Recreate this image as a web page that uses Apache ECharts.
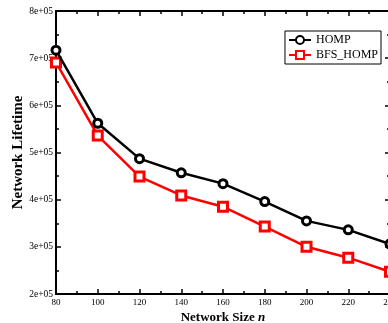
<!DOCTYPE html>
<html>
<head>
<meta charset="utf-8">
<script src="https://cdn.jsdelivr.net/npm/echarts@6/dist/echarts.min.js"></script>
<style>
  html, body { margin: 0; padding: 0; background: #fff; }
  #chart { width: 388px; height: 323px; }
</style>
</head>
<body>
<div id="chart"></div>
<script>
const networkSizes = [80, 100, 120, 140, 160, 180, 200, 220, 240];
const hompLifetime = [717000, 562000, 487000, 457000, 434000, 396000, 355000, 336000, 306000];
const bfsHompLifetime = [691000, 536000, 449000, 409000, 385000, 343000, 300000, 277000, 247000];

const font = "Liberation Serif";

const tickFormatter = (value) => `${Math.round(value / 1e5)}e+05`;

const axisLine = { lineStyle: { color: "#000", width: 2 } };
const majorTick = { inside: true, length: 5, lineStyle: { color: "#000", width: 1.5 } };
const minorTick = { show: true, splitNumber: 2, length: 3, lineStyle: { color: "#000", width: 1.5 } };

const chart = echarts.init(document.getElementById("chart"), null, { renderer: "canvas" });

chart.setOption({
  animation: false,
  backgroundColor: "#fff",
  grid: { left: 56, right: -2, top: 11, bottom: 29, containLabel: false, outerBoundsMode: "none" },
  legend: {
    top: 31,
    right: 7,
    orient: "vertical",
    itemGap: 3,
    itemWidth: 22,
    itemHeight: 10,
    padding: [3, 3, 3, 3],
    borderColor: "#000",
    borderWidth: 1,
    borderRadius: 0,
    textStyle: { fontFamily: font, fontSize: 12, color: "#000" },
    data: ["HOMP", "BFS_HOMP"],
  },
  xAxis: [
    {
      type: "value",
      min: 80,
      max: 240,
      interval: 20,
      axisLine,
      axisTick: majorTick,
      minorTick,
      splitLine: { show: false },
      axisLabel: { fontFamily: font, fontSize: 9, color: "#000", margin: 4 },
      name: "{a|Network Size} {b|n}",
      nameLocation: "middle",
      nameGap: 17,
      nameMoveOverlap: false,
      nameTextStyle: {
        rich: {
          a: { fontFamily: font, fontSize: 13, fontWeight: "bold", color: "#000" },
          b: { fontFamily: font, fontSize: 13, fontWeight: "bold", fontStyle: "italic", color: "#000" },
        },
      },
    },
    {
      type: "value",
      position: "top",
      min: 80,
      max: 240,
      interval: 20,
      axisLine,
      axisTick: majorTick,
      minorTick,
      splitLine: { show: false },
      axisLabel: { show: false },
    },
  ],
  yAxis: [
    {
      type: "value",
      min: 200000,
      max: 800000,
      interval: 100000,
      axisLine,
      axisTick: majorTick,
      minorTick,
      splitLine: { show: false },
      axisLabel: { fontFamily: font, fontSize: 9.5, color: "#000", margin: 3, formatter: tickFormatter },
      name: "Network Lifetime",
      nameLocation: "middle",
      nameGap: 30,
      nameMoveOverlap: false,
      nameTextStyle: { fontFamily: font, fontSize: 15, fontWeight: "bold", color: "#000" },
    },
    {
      type: "value",
      position: "right",
      min: 200000,
      max: 800000,
      interval: 100000,
      axisLine,
      axisTick: majorTick,
      minorTick,
      splitLine: { show: false },
      axisLabel: { show: false },
    },
  ],
  series: [
    {
      name: "HOMP",
      type: "line",
      data: networkSizes.map((n, i) => [n, hompLifetime[i]]),
      symbol: "circle",
      symbolSize: 8,
      lineStyle: { color: "#000", width: 2.5 },
      itemStyle: { color: "#fff", borderColor: "#000", borderWidth: 3 },
      z: 3,
    },
    {
      name: "BFS_HOMP",
      type: "line",
      data: networkSizes.map((n, i) => [n, bfsHompLifetime[i]]),
      symbol: "rect",
      symbolSize: 9,
      lineStyle: { color: "#ff0000", width: 2.5 },
      itemStyle: { color: "#fff", borderColor: "#ff0000", borderWidth: 3 },
      z: 2,
    },
  ],
});
</script>
</body>
</html>
